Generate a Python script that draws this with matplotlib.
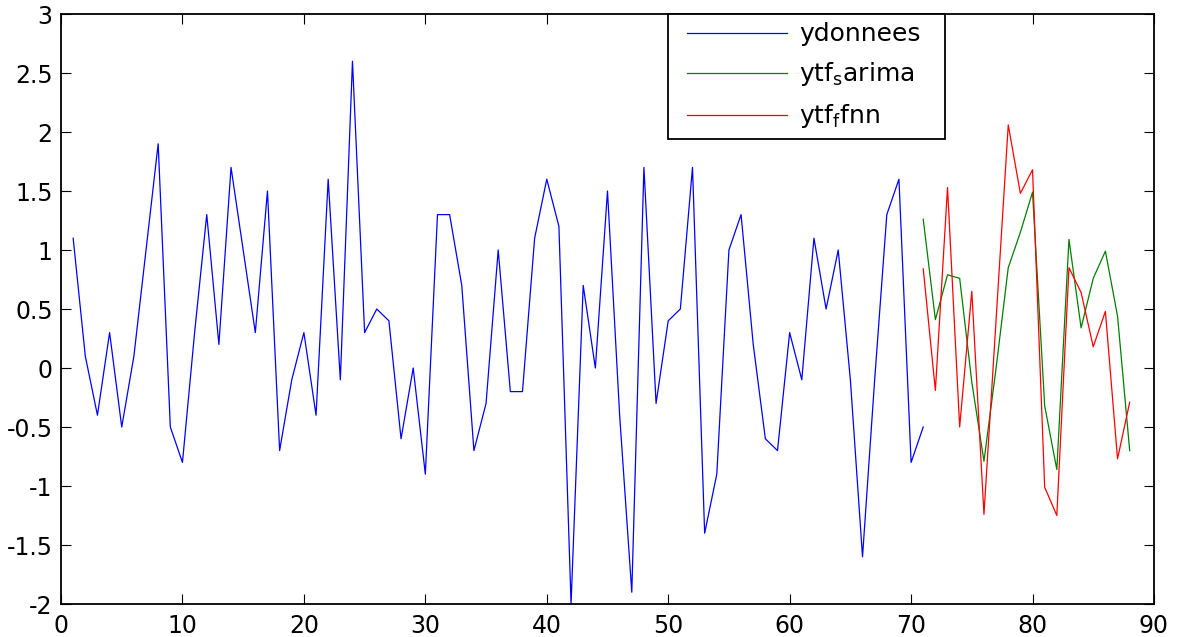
import numpy as np
import matplotlib
matplotlib.use("Agg")
import matplotlib.pyplot as plt
from matplotlib.ticker import FuncFormatter
from matplotlib.lines import Line2D
from matplotlib.legend_handler import HandlerLine2D

plt.rcParams['font.family'] = ['DejaVu Sans']
plt.rcParams['mathtext.default'] = 'regular'
plt.rcParams['axes.unicode_minus'] = False

# observed series, steps 1..71
ydonnees = [1.1, 0.1, -0.4, 0.3, -0.5, 0.1, 1.0, 1.9, -0.5, -0.8,
            0.3, 1.3, 0.2, 1.7, 1.0, 0.3, 1.5, -0.7, -0.1, 0.3,
            -0.4, 1.6, -0.1, 2.6, 0.3, 0.5, 0.4, -0.6, 0.0, -0.9,
            1.3, 1.3, 0.7, -0.7, -0.3, 1.0, -0.2, -0.2, 1.1, 1.6,
            1.2, -2.0, 0.7, 0.0, 1.5, -0.4, -1.9, 1.7, -0.3, 0.4,
            0.5, 1.7, -1.4, -0.9, 1.0, 1.3, 0.2, -0.6, -0.7, 0.3,
            -0.1, 1.1, 0.5, 1.0, -0.1, -1.6, -0.1, 1.3, 1.6, -0.8,
            -0.5]

# forecasts, steps 71..88
ytf_sarima = [1.26, 0.41, 0.79, 0.76, -0.12, -0.79, 0.0, 0.85, 1.15, 1.49,
              -0.32, -0.86, 1.09, 0.34, 0.76, 0.99, 0.44, -0.70]
ytf_fnn = [0.84, -0.19, 1.53, -0.50, 0.65, -1.24, 0.41, 2.06, 1.48, 1.68,
           -1.01, -1.25, 0.85, 0.64, 0.18, 0.48, -0.77, -0.29]

t_obs = np.arange(1, len(ydonnees) + 1)
t_fc = np.arange(71, 71 + len(ytf_fnn))

fig = plt.figure(figsize=(11.78, 6.37), dpi=100)
ax = fig.add_axes([0.0518, 0.0518, 0.9278, 0.9262])

ax.plot(t_obs, ydonnees, color=(0, 0, 1), lw=0.9, label='ydonnees')
ax.plot(t_fc, ytf_sarima, color=(0, 0.5, 0), lw=0.9, label=r'ytf$_s$arima')
ax.plot(t_fc, ytf_fnn, color=(1, 0, 0), lw=0.9, label=r'ytf$_f$fnn')

ax.set_xlim(0, 90)
ax.set_ylim(-2, 3)
ax.set_xticks(np.arange(0, 91, 10))
ax.set_yticks(np.arange(-2, 3.01, 0.5))
ax.yaxis.set_major_formatter(FuncFormatter(lambda v, p: '%g' % v))

ax.tick_params(direction='in', top=True, right=True, length=7.5, width=0.8,
               labelsize=17)
ax.tick_params(axis='x', pad=7)
ax.tick_params(axis='y', pad=6)
for s in ax.spines.values():
    s.set_linewidth(1.3)

# legend handles start a bit in from the frame
leg = ax.legend(loc='upper left', bbox_to_anchor=(0.555, 1.0, 0.254, 0.0),
                mode='expand', fontsize=18, handlelength=4.44,
                handletextpad=0.48, labelspacing=0.56, borderpad=0.33,
                borderaxespad=0, fancybox=False, framealpha=1,
                handler_map={Line2D: HandlerLine2D(xpad=0.44)})
leg.get_frame().set_edgecolor('black')
leg.get_frame().set_linewidth(1.3)

fig.savefig('out.png', dpi=100)
